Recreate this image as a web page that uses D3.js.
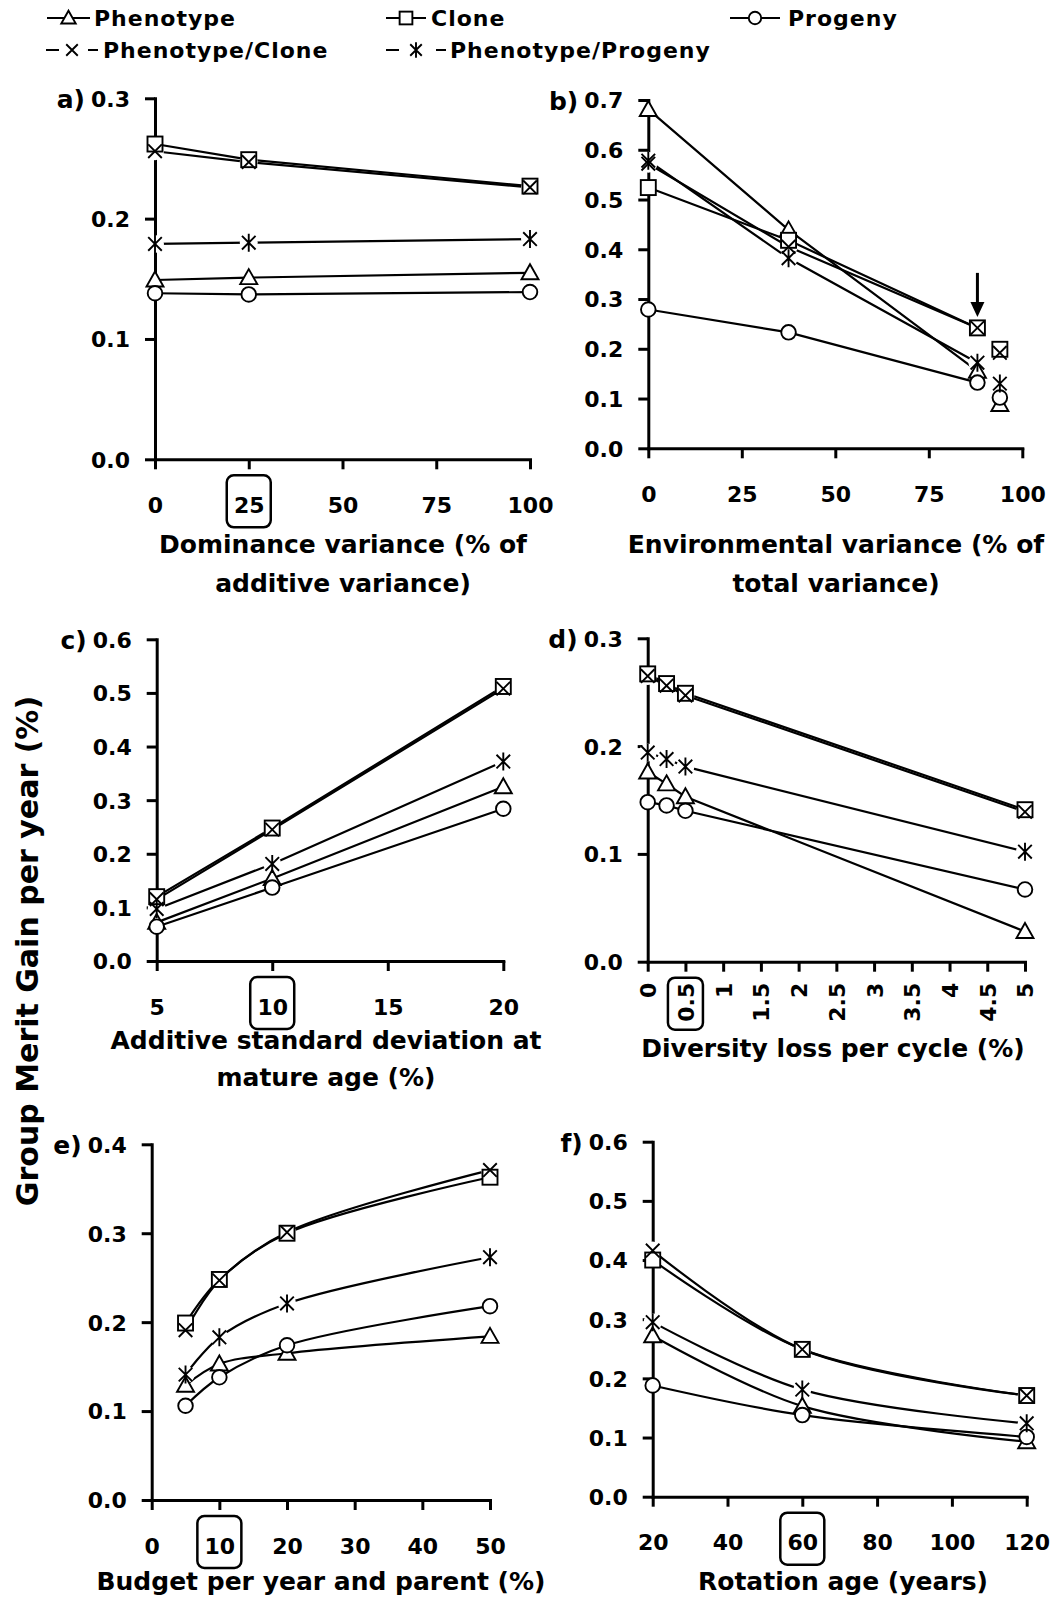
<!DOCTYPE html>
<html><head><meta charset="utf-8">
<script src="https://cdn.jsdelivr.net/npm/d3@7"></script>
<style>body{margin:0;background:#fff} svg{display:block}</style>
</head><body>
<svg id="chart" width="1057" height="1600"></svg>
<script>
// ---------------- DATA ----------------
const seriesNames = ["Phenotype", "Clone", "Progeny", "Phenotype/Clone", "Phenotype/Progeny"];
const seriesMarkers = ["triangle", "square", "circle", "cross", "star"];

// a) Dominance variance
const aX = [0, 25, 100];
const aValues = [
  [0.149, 0.151, 0.155],
  [0.262, 0.249, 0.227],
  [0.138, 0.137, 0.139],
  [0.256, 0.247, 0.226],
  [0.179, 0.180, 0.183]
];
const aXTicks = [0, 25, 50, 75, 100];
const aYTicks = [0, 0.1, 0.2, 0.3];

// b) Environmental variance (last point not joined)
const bX = [0, 37.5, 88, 94];
const bValues = [
  [0.681, 0.439, 0.155, 0.088],
  [0.524, 0.418, 0.242, 0.199],
  [0.279, 0.233, 0.132, 0.102],
  [0.572, 0.405, 0.242, 0.192],
  [0.578, 0.382, 0.172, 0.130]
];
const bXTicks = [0, 25, 50, 75, 100];
const bYTicks = [0, 0.1, 0.2, 0.3, 0.4, 0.5, 0.6, 0.7];

// c) Additive standard deviation
const cX = [5, 10, 20];
const cValues = [
  [0.072, 0.154, 0.325],
  [0.120, 0.248, 0.512],
  [0.064, 0.137, 0.284],
  [0.115, 0.245, 0.508],
  [0.097, 0.181, 0.372]
];
const cXTicks = [5, 10, 15, 20];
const cYTicks = [0, 0.1, 0.2, 0.3, 0.4, 0.5, 0.6];

// d) Diversity loss per cycle
const dX = [0, 0.25, 0.5, 5];
const dValues = [
  [0.176, 0.165, 0.153, 0.028],
  [0.267, 0.258, 0.249, 0.141],
  [0.148, 0.145, 0.140, 0.067],
  [0.265, 0.256, 0.247, 0.139],
  [0.194, 0.188, 0.181, 0.102]
];
const dXTicks = [0, 0.5, 1, 1.5, 2, 2.5, 3, 3.5, 4, 4.5, 5];
const dYTicks = [0, 0.1, 0.2, 0.3];

// e) Budget per year and parent
const eX = [5, 10, 20, 50];
const eValues = [
  [0.129, 0.153, 0.165, 0.184],
  [0.199, 0.248, 0.300, 0.363],
  [0.106, 0.138, 0.174, 0.218],
  [0.191, 0.247, 0.301, 0.371],
  [0.141, 0.183, 0.221, 0.273]
];
const eXTicks = [0, 10, 20, 30, 40, 50];
const eYTicks = [0, 0.1, 0.2, 0.3, 0.4];

// f) Rotation age
const fX = [20, 60, 120];
const fValues = [
  [0.272, 0.153, 0.093],
  [0.400, 0.249, 0.171],
  [0.188, 0.138, 0.101],
  [0.416, 0.249, 0.171],
  [0.295, 0.181, 0.124]
];
const fXTicks = [20, 40, 60, 80, 100, 120];
const fYTicks = [0, 0.1, 0.2, 0.3, 0.4, 0.5, 0.6];

const yAxisTitle = "Group Merit Gain per year (%)";

// ---------------- LAYOUT ----------------
const FONT = "'DejaVu Sans', Verdana, sans-serif";
const svg = d3.select("#chart").attr("font-family", FONT);

const panels = [
  {label: "a)", xs: aX, vals: aValues, xTicks: aXTicks, yTicks: aYTicks, xDom: [0, 100], yDom: [0, 0.3],
   xR: [155, 530], yR: [459.3, 98.3], boxed: 25, title: ["Dominance variance (% of", "additive variance)"],
   titleBase: [553, 592], titleCx: 343, curve: d3.curveLinear, joined: 3},
  {label: "b)", xs: bX, vals: bValues, xTicks: bXTicks, yTicks: bYTicks, xDom: [0, 100], yDom: [0, 0.7],
   xR: [648.3, 1022.3], yR: [448.3, 100], boxed: null, title: ["Environmental variance (% of", "total variance)"],
   titleBase: [553, 592], titleCx: 836, curve: d3.curveLinear, joined: 3, arrowAt: 2},
  {label: "c)", xs: cX, vals: cValues, xTicks: cXTicks, yTicks: cYTicks, xDom: [5, 20], yDom: [0, 0.6],
   xR: [156.7, 503.3], yR: [961, 639.3], boxed: 10, title: ["Additive standard deviation at", "mature age (%)"],
   titleBase: [1049, 1086], titleCx: 326, curve: d3.curveLinear, joined: 3},
  {label: "d)", xs: dX, vals: dValues, xTicks: dXTicks, yTicks: dYTicks, xDom: [0, 5], yDom: [0, 0.3],
   xR: [647.7, 1025], yR: [961.7, 638.3], boxed: 0.5, rotated: true, title: ["Diversity loss per cycle (%)"],
   titleBase: [1057], titleCx: 833, curve: d3.curveLinear, joined: 4},
  {label: "e)", xs: eX, vals: eValues, xTicks: eXTicks, yTicks: eYTicks, xDom: [0, 50], yDom: [0, 0.4],
   xR: [151.7, 490], yR: [1500, 1144.3], boxed: 10, title: ["Budget per year and parent (%)"],
   titleBase: [1590], titleCx: 321, curve: d3.curveCatmullRom.alpha(0.5), joined: 4},
  {label: "f)", xs: fX, vals: fValues, xTicks: fXTicks, yTicks: fYTicks, xDom: [20, 120], yDom: [0, 0.6],
   xR: [652.7, 1026.7], yR: [1496.7, 1141.7], boxed: 60, title: ["Rotation age (years)"],
   titleBase: [1590], titleCx: 843, curve: d3.curveCatmullRom.alpha(0.5), joined: 3}
];

function drawMarker(g, type, cx, cy, s) {
  let el;
  if (type === "triangle") {
    el = g.append("path").attr("d", `M${cx},${cy - 8.5 * s}L${cx + 8.5 * s},${cy + 6.5 * s}L${cx - 8.5 * s},${cy + 6.5 * s}Z`).attr("fill", "#fff");
  } else if (type === "square") {
    el = g.append("rect").attr("x", cx - 7.5 * s).attr("y", cy - 7.5 * s).attr("width", 15 * s).attr("height", 15 * s).attr("fill", "#fff");
  } else if (type === "circle") {
    el = g.append("circle").attr("cx", cx).attr("cy", cy).attr("r", 7.3 * s).attr("fill", "#fff");
  } else if (type === "cross") {
    const r = 6.8 * s;
    el = g.append("path").attr("d", `M${cx - r},${cy - r}L${cx + r},${cy + r}M${cx - r},${cy + r}L${cx + r},${cy - r}`).attr("fill", "none");
  } else {
    const r = 6.8 * s, v = 9 * s;
    el = g.append("path").attr("d", `M${cx - r},${cy - r}L${cx + r},${cy + r}M${cx - r},${cy + r}L${cx + r},${cy - r}M${cx},${cy - v}L${cx},${cy + v}`).attr("fill", "none");
  }
  el.attr("stroke", "#000").attr("stroke-width", 1.9);
}

function styleAxis(sel) {
  sel.select(".domain").attr("stroke-width", 3).attr("stroke-linecap", "square");
  sel.selectAll(".tick line").attr("stroke-width", 3);
  sel.selectAll(".tick text").attr("font-size", 22).attr("font-weight", "bold")
     .attr("fill", "#000").attr("font-family", FONT);
}

panels.forEach(p => {
  const x = d3.scaleLinear().domain(p.xDom).range(p.xR);
  const y = d3.scaleLinear().domain(p.yDom).range(p.yR);
  const g = svg.append("g");

  // Axes
  const yAx = g.append("g").attr("transform", `translate(${p.xR[0]},0)`)
    .call(d3.axisLeft(y).tickValues(p.yTicks).tickSize(10).tickSizeOuter(0).tickPadding(15).tickFormat(d3.format(".1f")));
  styleAxis(yAx);
  yAx.selectAll(".tick text").attr("dy", "0.36em");

  const xAx = g.append("g").attr("transform", `translate(0,${p.yR[0]})`)
    .call(d3.axisBottom(x).tickValues(p.xTicks).tickSize(10).tickSizeOuter(0).tickPadding(28).tickFormat(d => String(d)));
  styleAxis(xAx);
  if (p.rotated) {
    xAx.selectAll(".tick text").attr("transform", "rotate(-90)").attr("text-anchor", "end")
      .attr("x", -21).attr("y", 0).attr("dy", "0.36em");
  }

  // Highlight box around a tick label
  if (p.boxed !== null && p.boxed !== undefined) {
    const w = p.rotated ? 35 : 44;
    g.append("rect").attr("x", x(p.boxed) - w / 2).attr("y", p.yR[0] + 16)
      .attr("width", w).attr("height", 52).attr("rx", 7)
      .attr("fill", "none").attr("stroke", "#000").attr("stroke-width", 2.5);
  }

  // Panel label
  g.append("text").attr("x", p.xR[0] - 70).attr("y", p.yR[1] + 10).attr("text-anchor", "end")
    .attr("font-size", 25).attr("font-weight", "bold").text(p.label);

  // Axis title
  p.title.forEach((t, i) => {
    g.append("text").attr("x", p.titleCx).attr("y", p.titleBase[i]).attr("text-anchor", "middle")
      .attr("font-size", 25).attr("font-weight", "bold").text(t);
  });

  // Lines
  const line = d3.line().x(d => x(d[0])).y(d => y(d[1])).curve(p.curve);
  p.vals.forEach((vals) => {
    const pts = p.xs.map((xv, j) => [xv, vals[j]]).slice(0, p.joined);
    g.append("path").attr("d", line(pts)).attr("fill", "none").attr("stroke", "#000").attr("stroke-width", 2.2);
  });
  // White halos behind open markers (cross/star)
  p.vals.forEach((vals, si) => {
    if (seriesMarkers[si] === "cross" || seriesMarkers[si] === "star") {
      p.xs.forEach((xv, j) => {
        g.append("circle").attr("cx", x(xv)).attr("cy", y(vals[j])).attr("r", 9).attr("fill", "#fff");
      });
    }
  });
  // Markers
  p.vals.forEach((vals, si) => {
    p.xs.forEach((xv, j) => drawMarker(g, seriesMarkers[si], x(xv), y(vals[j]), 1));
  });

  // Arrow (panel b)
  if (p.arrowAt !== undefined) {
    const ax = x(p.xs[p.arrowAt]);
    const tip = y(p.vals[1][p.arrowAt]) - 11;
    g.append("line").attr("x1", ax).attr("x2", ax).attr("y1", tip - 44).attr("y2", tip - 12)
      .attr("stroke", "#000").attr("stroke-width", 3);
    g.append("path").attr("d", `M${ax - 7},${tip - 15}L${ax + 7},${tip - 15}L${ax},${tip}Z`).attr("fill", "#000");
  }
});

// Y axis title
svg.append("text").attr("transform", "translate(38,951) rotate(-90)").attr("text-anchor", "middle")
  .attr("font-size", 30).attr("font-weight", "bold").text(yAxisTitle);

// Legend
const legendItems = [
  {s: 0, x1: 47, x2: 90, cy: 18, tx: 94, base: 26, dashed: false},
  {s: 1, x1: 386, x2: 426, cy: 18, tx: 431, base: 26, dashed: false},
  {s: 2, x1: 730, x2: 780, cy: 18, tx: 788, base: 26, dashed: false},
  {s: 3, x1: 46, x2: 98, cy: 50, tx: 103, base: 58, dashed: true},
  {s: 4, x1: 386, x2: 446, cy: 50, tx: 450, base: 58, dashed: true}
];
const lg = svg.append("g");
legendItems.forEach(it => {
  const mid = (it.x1 + it.x2) / 2;
  if (it.dashed) {
    lg.append("line").attr("x1", it.x1).attr("x2", it.x1 + 13).attr("y1", it.cy).attr("y2", it.cy).attr("stroke", "#000").attr("stroke-width", 2);
    lg.append("line").attr("x1", it.x2 - 10).attr("x2", it.x2).attr("y1", it.cy).attr("y2", it.cy).attr("stroke", "#000").attr("stroke-width", 2);
  } else {
    lg.append("line").attr("x1", it.x1).attr("x2", it.x2).attr("y1", it.cy).attr("y2", it.cy).attr("stroke", "#000").attr("stroke-width", 2);
  }
  drawMarker(lg, seriesMarkers[it.s], mid, it.cy, 0.85);
  lg.append("text").attr("x", it.tx).attr("y", it.base).attr("font-size", 22).attr("font-weight", "bold")
    .attr("letter-spacing", "1px").text(seriesNames[it.s]);
});
</script>
</body></html>
